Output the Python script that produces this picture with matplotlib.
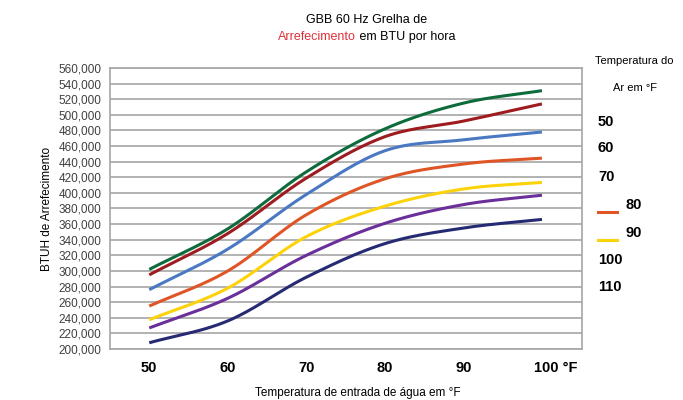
import numpy as np
import matplotlib.pyplot as plt
from matplotlib.ticker import FuncFormatter
import matplotlib.transforms as mtrans

# temperatura de entrada de agua (°F)
agua = [50, 60, 70, 80, 90, 100]

# BTUH por temperatura do ar
ar_50 = [302000, 354000, 427000, 482000, 515000, 531000]
ar_60 = [295000, 348000, 419000, 472000, 492000, 514000]
ar_70 = [276000, 328000, 398000, 454000, 468000, 478000]
ar_80 = [255000, 300000, 372000, 418000, 437000, 444500]
ar_90 = [237500, 278000, 344000, 383000, 405000, 413400]
ar_100 = [227000, 265000, 320000, 361000, 385000, 397000]
ar_110 = [208000, 236000, 292000, 335000, 355000, 366000]

series = [ar_50, ar_60, ar_70, ar_80, ar_90, ar_100, ar_110]
cores = ['#0e6b3b', '#9e1c20', '#4a78c2', '#e05526', '#fcd20a', '#6a2f9a', '#262a72']

ticks_x = [50, 60, 70, 80, 90, 100]
rotulos_x = ['50', '60', '70', '80', '90', '100 °F']
legenda = ['50', '60', '70', '80', '90', '100', '110']


# linha suavizada (tipo Excel) - Catmull-Rom
def suave(x, y, n=30):
    x = np.asarray(x, float)
    y = np.asarray(y, float)
    px = np.concatenate([[2 * x[0] - x[1]], x, [2 * x[-1] - x[-2]]])
    py = np.concatenate([[2 * y[0] - y[1]], y, [2 * y[-1] - y[-2]]])
    xs, ys = [], []
    t = np.linspace(0, 1, n, endpoint=False)
    for i in range(1, len(px) - 2):
        for p, out in ((px, xs), (py, ys)):
            p0, p1, p2, p3 = p[i - 1], p[i], p[i + 1], p[i + 2]
            out.extend(0.5 * (2 * p1 + (-p0 + p2) * t + (2 * p0 - 5 * p1 + 4 * p2 - p3) * t ** 2
                              + (-p0 + 3 * p1 - 3 * p2 + p3) * t ** 3))
    xs.append(x[-1])
    ys.append(y[-1])
    return xs, ys


plt.rcParams['font.family'] = ['Liberation Sans', 'DejaVu Sans']

fig = plt.figure(figsize=(6.83, 4.0), dpi=100)
ax = fig.add_axes([110 / 683, 51 / 400, 472 / 683, 281 / 400])

for s, c in zip(series, cores):
    xs, ys = suave(agua, s)
    ax.plot(xs, ys, color=c, lw=2.2, solid_capstyle='butt', zorder=3)

ax.set_xlim(45, 105.1)
ax.set_ylim(200000, 560000)
ax.set_yticks(np.arange(200000, 560001, 20000))
ax.yaxis.set_major_formatter(FuncFormatter(lambda v, p: '{:,.0f}'.format(v)))
ax.grid(axis='y', color='#a6a6a6', lw=1.2)
ax.set_axisbelow(True)
for sp in ax.spines.values():
    sp.set_color('#a6a6a6')
    sp.set_linewidth(1.2)
ax.tick_params(axis='y', length=0, pad=6, labelsize=8.5, labelcolor='#404040')
ax.tick_params(axis='x', length=0, pad=9, labelsize=10.5)
ax.set_xticks(ticks_x)
ax.set_xticklabels(rotulos_x, fontweight='bold')
lbl = ax.get_xticklabels()[-1]
lbl.set_transform(lbl.get_transform() + mtrans.ScaledTranslation(14 / 100, 0, fig.dpi_scale_trans))

ax.set_ylabel('BTUH de Arrefecimento', fontsize=8.5, labelpad=4)
fig.text(358 / 683, 1 - 393 / 400, 'Temperatura de entrada de água em °F', ha='center', va='center', fontsize=8.5)

# titulo
fig.text(367 / 683, 1 - 20 / 400, 'GBB 60 Hz Grelha de', ha='center', va='center', fontsize=9)
fig.text(356 / 683, 1 - 37 / 400, 'Arrefecimento', ha='right', va='center', fontsize=9, color='#e0303a')
fig.text(356 / 683, 1 - 37 / 400, ' em BTU por hora', ha='left', va='center', fontsize=9)

# legenda
fig.text(595 / 683, 1 - 61 / 400, 'Temperatura do', ha='left', va='center', fontsize=8)
fig.text(613 / 683, 1 - 88 / 400, 'Ar em °F', ha='left', va='center', fontsize=8)
ys_leg = [122, 148, 177, 205, 233, 260, 287]
for i, (t, yy) in enumerate(zip(legenda, ys_leg)):
    if i in (3, 4):
        fig.text(625 / 683, 1 - yy / 400, t, ha='left', va='center', fontsize=10.5, fontweight='bold')
        fig.add_artist(plt.Line2D([598 / 683, 617 / 683], [1 - (yy + 7) / 400] * 2,
                                  color=cores[i], lw=2.2, transform=fig.transFigure))
    else:
        fig.text(598 / 683, 1 - yy / 400, t, ha='left', va='center', fontsize=10.5, fontweight='bold')

fig.savefig('out.png', dpi=100)
